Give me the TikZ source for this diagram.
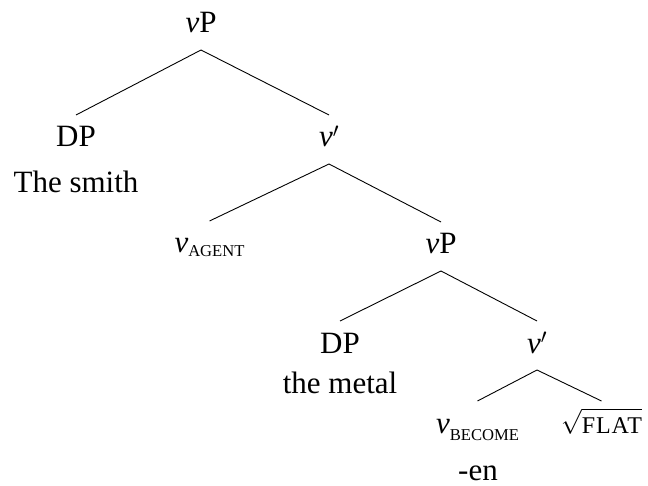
\documentclass[tikz,border=0pt]{standalone}
\usepackage{fontspec}
\setmainfont{Liberation Serif}
\usepackage{graphicx}
\newcommand\vsub[2]{\textit{v}\raisebox{-#2}{\fontsize{16.6}{16.6}\selectfont #1}}
\begin{document}
\begin{tikzpicture}[x=1pt,y=-1pt,
  lab/.style={anchor=base,inner sep=0pt,outer xsep=0pt,outer ysep=10pt,
    text height=22pt,text depth=7pt,font=\fontsize{31}{37}\selectfont},
  txt/.style={anchor=base,inner sep=0pt,font=\fontsize{31}{37}\selectfont},
  edge/.style={line width=0.9pt}]
\useasboundingbox (0,0) rectangle (648,486);
\node[lab] (root) at (201,33) {\textit{v}P};
\node[lab] (dp1) at (76,147) {DP};
\node[txt] (smith) at (76,193) {The smith};
\node[lab] (vbar1) at (329,147) {\textit{v}$'$};
\node[lab] (vagent) at (209.5,253) {\vsub{AGENT}{4pt}};
\node[lab] (vp2) at (441,254) {\textit{v}P};
\node[lab] (dp2) at (340,353) {DP};
\node[txt] (metal) at (340,393) {the metal};
\node[lab] (vbar2) at (537,353) {\textit{v}$'$};
\node[lab] (vbecome) at (477.5,433) {\vsub{BECOME}{7pt}};
\node[lab] (flat) at (601.5,433) {$\sqrt{\rule{0pt}{21pt}\mbox{\fontsize{24}{24}\selectfont\addfontfeature{LetterSpace=4}FLAT}}$};
\node[txt] (en) at (478,480) {-en};
\draw[edge] (root.south) -- (dp1.north);
\draw[edge] (root.south) -- (vbar1.north);
\draw[edge] (vbar1.south) -- (vagent.north);
\draw[edge] (vbar1.south) -- (vp2.north);
\draw[edge] (vp2.south) -- (dp2.north);
\draw[edge] (vp2.south) -- (vbar2.north);
\draw[edge] (vbar2.south) -- (vbecome.north);
\draw[edge] (vbar2.south) -- (flat.north);
\end{tikzpicture}
\end{document}
